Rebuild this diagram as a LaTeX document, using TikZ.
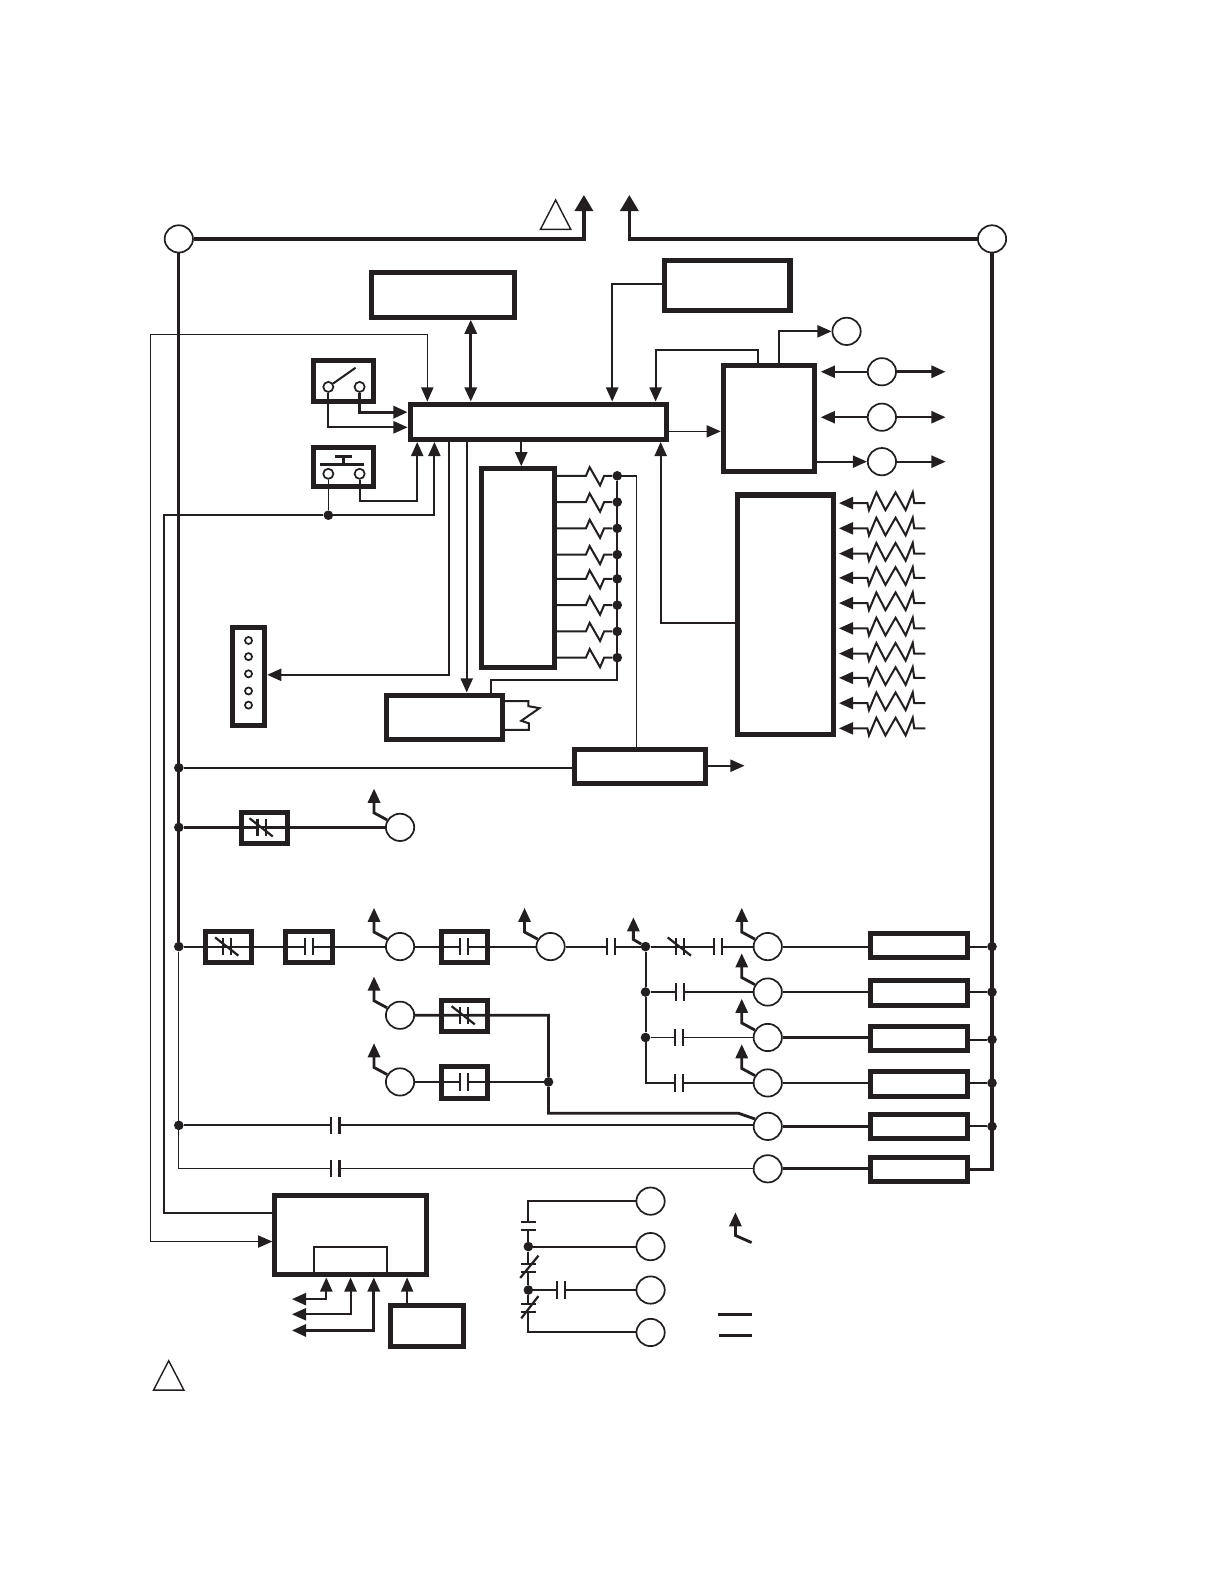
\documentclass[tikz,border=0pt]{standalone}
\usepackage{tikz}
\usetikzlibrary{arrows.meta,shapes.geometric}
\definecolor{ink}{HTML}{231F20}
\tikzset{
    bx/.style 2 args={draw,fill=white,line width=5pt,inner sep=0pt,minimum width=#1pt,minimum height=#2pt},
    coil/.style={draw,ellipse,fill=white,line width=1.7pt,inner sep=0pt,minimum width=28pt,minimum height=27pt},
    term/.style={draw,circle,fill=white,line width=1.7pt,inner sep=0pt,minimum size=#1pt},
    jn/.style={circle,fill=ink,inner sep=0pt,minimum size=9.5pt},
    gap/.style={inner sep=0pt,outer sep=0pt,minimum width=8pt,minimum height=17pt},
    vgap/.style={inner sep=0pt,outer sep=0pt,minimum width=15pt,minimum height=8pt},
    hair/.style={line width=1pt},
    fine/.style={line width=1.4pt},
    mid/.style={line width=2pt},
    wide/.style={line width=2.8pt},
    bus/.style={line width=3.2pt},
    bar/.style={line width=2.2pt},
    bigtip/.style={-{Triangle[length=16pt,width=18pt]}},
    flagtip/.style={-{Triangle[length=14pt,width=12pt]},line width=2.8pt,line join=miter}
}
\newcommand{\nocontact}[3]{
    \node[gap] (#1) at (#2,#3) {};
    \draw[bar] (#1.north west) -- (#1.south west) (#1.north east) -- (#1.south east);
}
\newcommand{\nccontact}[3]{
    \nocontact{#1}{#2}{#3}
    \draw[mid] (#1.west) -- (#1.east);
    \draw[bar] (#2-12,#3-9) -- (#2+11,#3+9);
}
\newcommand{\vcontact}[3]{
    \node[vgap] (#1) at (#2,#3) {};
    \draw[mid] (#1.north west) -- (#1.north east) (#1.south west) -- (#1.south east);
}
\newcommand{\flagup}[1]{
    \draw[flagtip] (#1.150) -- ++(-13,-7) -- ++(0,-24);
}
\begin{document}
\begin{tikzpicture}[x=1pt,y=-1pt,color=ink,>={Triangle[length=14pt,width=12pt]}]
    \useasboundingbox (0,0) rectangle (1211.6,1568);

    % boxes
    \node[bx={141}{44}] (mem) at (438.5,292) {};
    \node[bx={124}{49}] (disp) at (720,282.5) {};
    \node[bx={60}{40}] (swbox) at (340,377) {};
    \node[bx={60}{39}] (pbbox) at (340,462.5) {};
    \node[bx={254}{35}] (ctrl) at (533,417.5) {};
    \node[bx={90}{105}] (abox) at (761,414.5) {};
    \node[bx={72}{197}] (bbox) at (513,562.5) {};
    \node[bx={95}{237}] (cbox) at (777.5,608.5) {};
    \node[bx={32}{97}] (plug) at (246,669.5) {};
    \node[bx={114}{44}] (ebox) at (440,710) {};
    \node[bx={129}{34}] (fbox) at (633.5,759) {};
    \node[bx={46}{31}] (ga) at (262,819.5) {};
    \node[bx={46}{31}] (gb) at (226,937.5) {};
    \node[bx={46}{31}] (gc) at (306,937.5) {};
    \node[bx={46}{31}] (gd) at (460,937.5) {};
    \node[bx={46}{31}] (ge) at (460,1005.5) {};
    \node[bx={46}{31}] (gf) at (460,1071.5) {};
    \node[bx={96}{24}] (load1) at (910,936) {};
    \node[bx={96}{24}] (load2) at (910,983) {};
    \node[bx={96}{24}] (load3) at (910,1028) {};
    \node[bx={96}{24}] (load4) at (910,1073) {};
    \node[bx={96}{24}] (load5) at (910,1115) {};
    \node[bx={96}{24}] (load6) at (910,1158) {};
    \node[bx={150}{79}] (lower) at (347,1222.5) {};
    \node[draw,line width=2pt,inner sep=0pt,minimum width=72pt,minimum height=28pt] (inner) at (347,1248) {};
    \node[bx={72}{41}] (small) at (423,1312.5) {};

    % coils
    \node[coil] (l1) at (177,236.5) {};
    \node[coil] (r1) at (982,236.5) {};
    \node[coil] (top) at (838,328) {};
    \node[coil] (ra) at (873,368) {};
    \node[coil] (rb) at (873,413) {};
    \node[coil] (rc) at (873,457) {};
    \node[coil] (fa) at (396,819) {};
    \node[coil] (fb) at (396,937) {};
    \node[coil] (fc) at (545,937) {};
    \node[coil] (fe) at (396,1005) {};
    \node[coil] (ff) at (396,1071) {};
    \node[coil] (k1) at (760,937) {};
    \node[coil] (k2) at (760,982) {};
    \node[coil] (k3) at (760,1027) {};
    \node[coil] (k4) at (760,1072) {};
    \node[coil] (k5) at (760,1115) {};
    \node[coil] (k6) at (760,1157) {};
    \node[coil] (q1) at (644,1189) {};
    \node[coil] (q2) at (644,1234) {};
    \node[coil] (q3) at (644,1277) {};
    \node[coil] (q4) at (644,1319) {};

    % junctions
    \node[jn] (j1) at (177,760) {};
    \node[jn] (j2) at (177,819) {};
    \node[jn] (j3) at (177,937) {};
    \node[jn] (j4) at (177,1114) {};
    \node[jn] (j5) at (325,510) {};
    \node[jn] (j6) at (543,1071) {};
    \node[jn] (j7) at (639,937) {};
    \node[jn] (j8) at (639,982) {};
    \node[jn] (j9) at (639,1027) {};
    \node[jn] (b1) at (982,937) {};
    \node[jn] (b2) at (982,982) {};
    \node[jn] (b3) at (982,1029) {};
    \node[jn] (b4) at (982,1072) {};
    \node[jn] (b5) at (982,1115) {};
    \node[jn] (d1) at (523,1234) {};
    \node[jn] (d2) at (523,1277) {};

    % terminals
    \node[term=10] (sa) at (325,383) {};
    \node[term=10] (sb) at (356,383) {};
    \node[term=10] (pa) at (325,469) {};
    \node[term=10] (pb) at (356,469) {};
    \foreach \y [count=\i] in {634,650,667,684,698}
        \node[term=7] (pin\i) at (246,\y) {};

    % free ends
    \coordinate (tl) at (578,193);
    \coordinate (tr) at (623,193);
    \coordinate (ra1) at (936,368);
    \coordinate (rb1) at (936,413);
    \coordinate (rc1) at (936,457);
    \coordinate (fout) at (737,758);
    \coordinate (ol1) at (289,1286);
    \coordinate (ol2) at (289,1301);
    \coordinate (ol3) at (289,1317);

    % supply
    \draw[bus,bigtip] (l1.east) -| (tl);
    \draw[bus,bigtip] (r1.west) -| (tr);
    \draw[bus] (l1.south) -- (j3);
    \draw[bus] (r1.south) |- (load6.east);

    % switch and push button
    \draw[mid] (sa) -- (352,364);
    \draw[wide] (317,460) -- (360,460);
    \draw[wide] (332,452) -- (348,452);
    \draw[wide] (340,452) -- (340,460);
    \draw[wide,->] (sb.south) |- (ctrl.west |- 0,408);
    \draw[mid,->] (sa.south) |- (ctrl.west |- 0,423);
    \draw[fine] (pa.south) -- (j5);
    \draw[mid,->] (pb.south) |- (413,496) -- (ctrl.south -| 413,0);
    \draw[mid,->] (j5) -- (430,510) -- (ctrl.south -| 430,0);
    \draw[mid] (j5) -- (162,510) |- (lower.west |- 0,1201);
    \draw[fine,<->] (lower.west |- 0,1229) -- (149,1229) -- (149,331) -- (423,331) -- (ctrl.north -| 423,0);

    % control block
    \draw[wide,<->] (mem.south -| 466,0) -- (ctrl.north -| 466,0);
    \draw[mid,->] (disp.west |- 0,281) -| (ctrl.north -| 606,0);
    \draw[mid,->] (abox.north -| 750,0) |- (649,346) -- (ctrl.north -| 649,0);
    \draw[mid,->] (abox.north -| 771,0) |- (top.west);
    \draw[fine,->] (ctrl.east |- 0,427) -- (abox.west |- 0,427);
    \draw[mid,->] (ctrl.south -| 516,0) -- (bbox.north -| 516,0);
    \draw[mid,->] (ctrl.south -| 444,0) |- (plug.east |- 0,668);
    \draw[mid,->] (ctrl.south -| 462,0) -- (ebox.north -| 462,0);
    \draw[mid,->] (cbox.west |- 0,617) -| (ctrl.south -| 654,0);

    % right hand coils
    \draw[mid,->,shorten >=4pt] (ra.west) -- (abox.east |- ra);
    \draw[wide,->] (ra.east) -- (ra1);
    \draw[mid,->,shorten >=4pt] (rb.west) -- (abox.east |- rb);
    \draw[mid,->] (rb.east) -- (rb1);
    \draw[mid,->] (abox.east |- rc) -- (rc.west);
    \draw[mid,->] (rc.east) -- (rc1);

    % resistors
    \foreach \y [count=\i] in {471,497,523,549,573,599,625,651} {
        \node[jn] (dr\i) at (611,\y) {};
        \draw[mid] (bbox.east |- 0,\y) -- (580,\y) -- ++(3.7,-8.5) -- ++(10.3,18) -- ++(4,-9.5) -- (dr\i);
    }
    \coordinate (ecorner) at (611,673);
    \draw[mid] (dr1) -- (ecorner) -| (ebox.north -| 486,0);
    \draw[fine] (dr1) -| (fbox.north -| 630,0);
    \draw[mid] (ebox.east |- 0,694) -- (523,694) -- (523,699) -- (534,701) -- (516,713.5) -- (523.5,716) -- (523.5,722.5) -- (ebox.east |- 0,722.5);
    \foreach \y in {498,523,548,572,597,622,647,671,696,721}
        \draw[mid,->,shorten >=3pt] (916,\y) -- (905,\y) -- ++(-1.5,-10.5) -- ++(-7,17.5) -- ++(-10,-17.5) -- ++(-10,17.5) -- ++(-9,-17.5) -- ++(-7.3,17.5) -- ++(-1.6,-7) -- (cbox.east |- 0,\y);

    % rungs
    \draw[mid] (j1) -- (fbox.west |- j1);
    \draw[mid,->] (fbox.east |- fout) -- (fout);
    \nccontact{ca}{259}{819}
    \draw[wide] (j2) -- (ca.west) (ca.east) -- (fa.west);
    \flagup{fa}

    \nccontact{cb}{225}{937}
    \nocontact{cc}{306}{937}
    \nocontact{cd}{459}{937}
    \nocontact{ce}{605}{937}
    \nccontact{cf}{673}{937}
    \nocontact{cg}{711}{937}
    \draw[mid] (j3) -- (cb.west) (cb.east) -- (cc.west) (cc.east) -- (fb.west);
    \draw[mid] (fb.east) -- (cd.west) (cd.east) -- (fc.west) (fc.east) -- (ce.west) (ce.east) -- (j7) -- (cf.west);
    \draw[mid] (cf.east) -- (cg.west) (cg.east) -- (k1.west);
    \flagup{fb}
    \flagup{fc}
    \flagup{k1}
    \draw[flagtip] (j7) -- ++(-12,-7) -- ++(0,-22);

    \nccontact{ch}{459}{1005}
    \nocontact{ci}{459}{1071}
    \draw[wide] (fe.east) -- (ch.west) (ch.east) -- (543,1005) -- (j6) -- (543,1102) -- (731,1102) -- (k5.150);
    \draw[wide] (ff.east) -- (ci.west) (ci.east) -- (j6);
    \flagup{fe}
    \flagup{ff}

    \nocontact{cj}{673}{982}
    \nocontact{ck}{672}{1027}
    \nocontact{cl}{672}{1072}
    \draw[mid] (j7) -- (j8) -- (j9) -- (639,1072) -- (cl.west) (cl.east) -- (k4.west);
    \draw[mid] (j8) -- (cj.west) (cj.east) -- (k2.west);
    \draw[hair] (j9) -- (ck.west) (ck.east) -- (k3.west);
    \flagup{k2}
    \flagup{k3}
    \flagup{k4}

    \nocontact{cm}{332}{1114}
    \nocontact{cn}{332}{1157}
    \draw[mid] (j4) -- (cm.west) (cm.east) -- (k5.west |- cm);
    \draw[hair] (j3) -- (177,1157) -- (cn.west) (cn.east) -- (k6.west);

    % loads
    \foreach \i/\w in {1/mid,2/wide,3/wide,4/mid,5/wide} {
        \draw[\w] (k\i.east) -- (k\i.east -| load\i.west);
        \draw[mid] (b\i -| load\i.east) -- (b\i);
    }
    \draw[wide] (k6.east) -- (k6.east -| load6.west);

    % lower block
    \draw[wide,<->] (ol3) -| (lower.south -| 370,0);
    \draw[mid,<->] (ol2) -| (lower.south -| 347,0);
    \draw[mid,<->] (ol1) -| (lower.south -| 323,0);
    \draw[fine,->] (small.north -| 403,0) -- (lower.south -| 403,0);

    % lower left group
    \vcontact{va}{523}{1214}
    \vcontact{vb}{523}{1255.5}
    \vcontact{vc}{523}{1295}
    \nocontact{cp}{555}{1277}
    \draw[mid] (q1.west) -| (va.north);
    \draw[mid] (va.south) -- (d1) -- (vb.north) (vb.south) -- (d2) -- (vc.north);
    \draw[mid] (vc.south) |- (q4.west);
    \draw[mid] (d1) -- (q2.west);
    \draw[mid] (d2) -- (cp.west) (cp.east) -- (q3.west);
    \draw[bar] (515,1265) -- (533,1243);
    \draw[bar] (516,1305) -- (533,1283);

    % legend
    \draw[flagtip] (744,1230) -- (728,1223) -- (728,1200);
    \draw[wide] (711,1301) -- (744,1301);
    \draw[mid] (712,1322) -- (744,1322);

    % triangles
    \draw[fine] (535,227) -- (550,198) -- (565,227) -- cycle;
    \draw[fine] (152,1376) -- (167,1347) -- (182,1376) -- cycle;
\end{tikzpicture}
\end{document}
